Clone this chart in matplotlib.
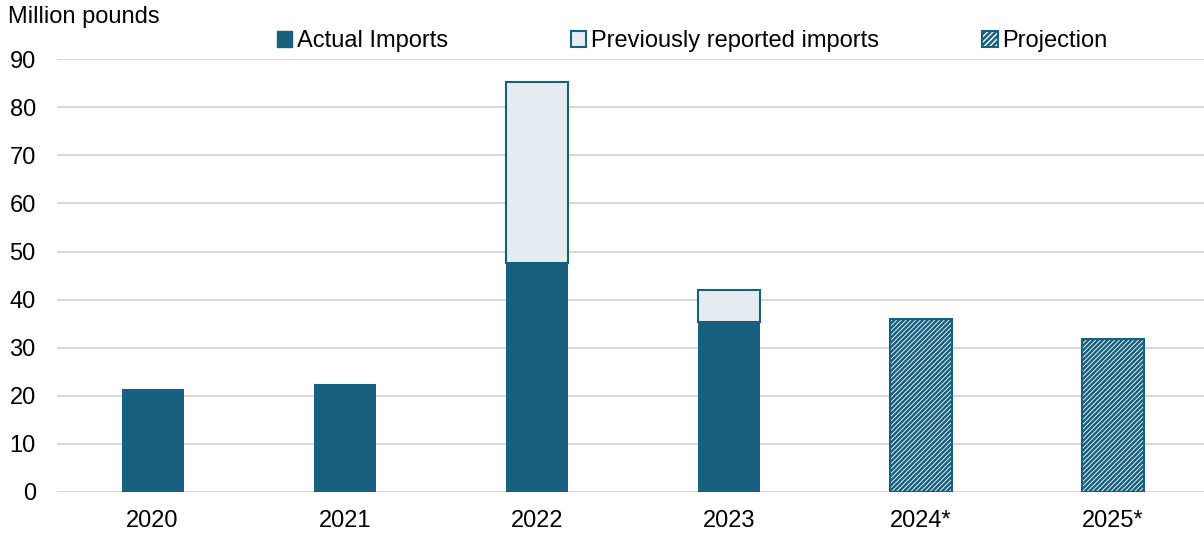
import matplotlib.pyplot as plt
from matplotlib.patches import Patch

plt.rcParams['font.family'] = ['Liberation Sans', 'DejaVu Sans']
plt.rcParams['hatch.linewidth'] = 1.8

years = ['2020', '2021', '2022', '2023', '2024*', '2025*']
actual = [21.2, 22.2, 47.6, 35.3, 0, 0]
previous = [0, 0, 85.2, 42.0, 0, 0]
projection = [0, 0, 0, 0, 36.0, 31.8]

dark = '#17607f'
light = '#e5edf1'
fs = 17

fig = plt.figure(figsize=(12.04, 5.33), dpi=100)
ax = fig.add_axes([0.047, 0.077, 0.957, 0.812])

x = range(len(years))
w = 0.323
prev_extra = [p - a if p > 0 else 0 for p, a in zip(previous, actual)]
ax.bar(x, actual, w, color=dark, zorder=3)
ax.bar(x, prev_extra, w, bottom=actual, color=light, edgecolor=dark, linewidth=1.5, zorder=3)
ax.bar(x, projection, w, color='white', edgecolor=dark, hatch='///////', linewidth=1.5, zorder=3)

ax.set_ylim(0, 90)
ax.set_xlim(-0.5, 5.5)
ax.set_yticks(range(0, 91, 10))
ax.set_xticks(list(x))
ax.set_xticklabels(years)
ax.tick_params(length=0, labelsize=fs, colors='black')
ax.tick_params(axis='y', pad=15)
ax.tick_params(axis='x', pad=13)
ax.grid(axis='y', color='#d9d9d9', linewidth=1.5, zorder=0)
for s in ax.spines.values():
    s.set_visible(False)

fig.text(0.007, 0.968, 'Million pounds', fontsize=fs, va='center', ha='left')

handles = [Patch(facecolor=dark, edgecolor=dark),
           Patch(facecolor=light, edgecolor=dark, linewidth=1.5),
           Patch(facecolor='white', edgecolor=dark, hatch='//////', linewidth=1.5)]
labels = ['Actual Imports', 'Previously reported imports', 'Projection']
legend_x = [0.222, 0.466, 0.808]
for h, lab, lx in zip(handles, labels, legend_x):
    fig.legend([h], [lab], loc='center left', bbox_to_anchor=(lx, 0.923),
               frameon=False, fontsize=fs, handlelength=0.65, handleheight=0.65,
               handletextpad=0.2, borderaxespad=0)

fig.savefig('out.png', dpi=100)
